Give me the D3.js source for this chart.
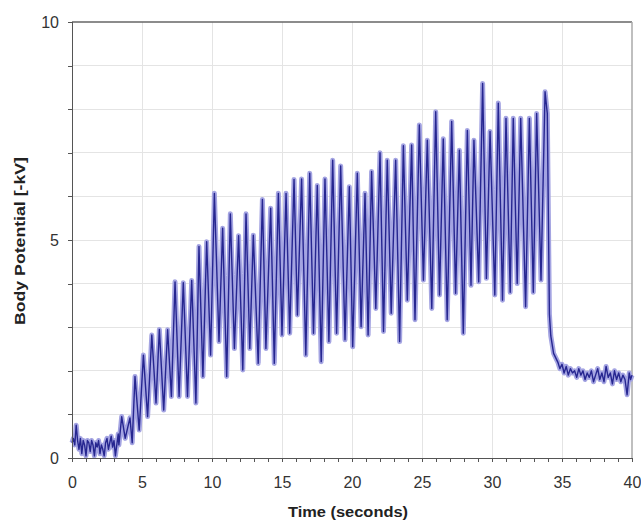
<!DOCTYPE html>
<html lang="en">
<head>
<meta charset="UTF-8">
<title>Body Potential</title>
<script src="https://d3js.org/d3.v7.min.js"></script>
<style>
body { margin: 0; background: #fff; }
.axis path, .axis line { fill: none; stroke: #555; shape-rendering: crispEdges; }
.axis text { font-family: "Liberation Sans", Arial, sans-serif; font-size: 16px; fill: #333; }
.grid line { stroke: #e4e4e4; shape-rendering: crispEdges; }
.label { font-family: "Liberation Sans", Arial, sans-serif; font-weight: bold; font-size: 14px; fill: #222; }
</style>
</head>
<body>
<script>
// readings: time in seconds, body potential in -kV
var timeSec = [
  0.0, 0.1, 0.2, 0.3, 0.4, 0.5, 0.6, 0.7, 0.8, 0.9,
  1.0, 1.1, 1.2, 1.3, 1.4, 1.5, 1.6, 1.7, 1.8, 1.9,
  2.0, 2.1, 2.2, 2.3, 2.4, 2.5, 2.6, 2.7, 2.8, 2.9,
  3.0, 3.1, 3.2, 3.3,
  3.35, 3.55, 3.8, 4.14, 4.3, 4.5, 4.8, 5.1, 5.4, 5.7,
  6.0, 6.24, 6.55, 6.83, 7.1, 7.36, 7.65, 7.95, 8.25, 8.55,
  8.85, 9.07, 9.35, 9.62, 9.9, 10.17, 10.5, 10.76, 11.05, 11.31,
  11.6, 11.9, 12.2, 12.43, 12.7, 12.95, 13.3, 13.6, 13.85, 14.19,
  14.45, 14.74, 15.0, 15.29, 15.55, 15.86, 16.1, 16.4, 16.7, 16.98,
  17.25, 17.52, 17.8, 18.07, 18.35, 18.62, 18.9, 19.19, 19.5, 19.81,
  20.05, 20.38, 20.65, 20.93, 21.15, 21.4, 21.7, 22.0, 22.25, 22.52,
  22.8, 23.12, 23.4, 23.67, 23.95, 24.26, 24.5, 24.81, 25.1, 25.38,
  25.7, 25.98, 26.25, 26.52, 26.8, 27.12, 27.4, 27.67, 27.95, 28.24,
  28.5, 28.71, 29.05, 29.33, 29.6, 29.86, 30.2, 30.45, 30.75, 31.0,
  31.3, 31.52, 31.8, 32.05, 32.4, 32.67, 32.95, 33.19, 33.5, 33.79,
  33.95, 34.1, 34.2, 34.4,
  34.7, 34.85, 35.0, 35.15, 35.3, 35.45, 35.6, 35.75, 35.9, 36.05,
  36.2, 36.35, 36.5, 36.65, 36.8, 36.95, 37.1, 37.25, 37.4, 37.55,
  37.7, 37.85, 38.0, 38.15, 38.3, 38.45, 38.6, 38.75, 38.9, 39.05,
  39.2, 39.35, 39.5, 39.65, 39.8, 39.9, 40.0
];
var potentialKV = [
  0.35, 0.45, 0.3, 0.75, 0.4, 0.2, 0.45, 0.1, 0.4, 0.3,
  0.05, 0.4, 0.35, 0.15, 0.4, 0.3, 0.05, 0.35, 0.25, 0.4,
  0.1, 0.3, 0.2, 0.05, 0.35, 0.45, 0.2, 0.35, 0.5, 0.25,
  0.4, 0.05, 0.3, 0.55,
  0.3, 0.95, 0.45, 0.92, 0.35, 1.87, 0.64, 2.36, 0.95, 2.82,
  1.26, 2.95, 1.1, 2.94, 1.41, 4.04, 1.41, 4.02, 1.41, 4.07,
  1.26, 4.85, 1.87, 4.96, 2.36, 6.07, 2.67, 5.27, 1.87, 5.6,
  2.51, 5.1, 2.02, 5.6, 2.51, 5.11, 2.17, 5.93, 2.51, 5.73,
  2.17, 6.07, 2.82, 6.07, 2.86, 6.39, 3.28, 6.4, 2.36, 6.53,
  2.86, 6.25, 2.21, 6.4, 2.67, 6.83, 2.86, 6.7, 2.71, 6.22,
  2.55, 6.53, 3.01, 6.07, 2.82, 6.57, 3.43, 7.0, 2.9, 6.83,
  3.32, 6.83, 2.67, 7.16, 3.62, 7.18, 3.17, 7.64, 4.08, 7.29,
  3.43, 7.94, 3.74, 7.32, 3.17, 7.72, 3.78, 7.06, 2.86, 7.51,
  3.96, 7.29, 4.04, 8.59, 4.12, 7.49, 3.74, 8.14, 3.62, 7.79,
  3.8, 7.79, 4.0, 7.79, 3.47, 7.79, 3.8, 7.9, 4.08, 8.4,
  7.9, 3.3, 2.8, 2.4,
  2.2, 2.05, 2.15, 1.95, 2.1, 1.9, 2.05, 1.95, 2.0, 1.85,
  2.05, 1.9, 2.0, 1.8, 1.95, 1.85, 2.0, 1.75, 1.9, 2.05,
  1.8, 1.95, 1.75, 2.1, 1.85, 1.95, 1.7, 2.0, 1.8, 1.95,
  1.75, 1.9, 1.8, 1.45, 1.95, 1.8, 1.9
];
var xMajorTicks = [0, 5, 10, 15, 20, 25, 30, 35, 40];
var yMajorTicks = [0, 5, 10];

var svgW = 641, svgH = 521;
var mLeft = 72, mTop = 22, plotW = 560, plotH = 436;

var svg = d3.select('body').append('svg')
  .attr('width', svgW)
  .attr('height', svgH);

var x = d3.scaleLinear().domain([0, 40]).range([mLeft, mLeft + plotW]);
var y = d3.scaleLinear().domain([0, 10]).range([mTop + plotH, mTop]);

// grid
svg.append('g').attr('class', 'grid')
  .selectAll('line').data(d3.range(1, 10)).enter().append('line')
  .attr('x1', mLeft).attr('x2', mLeft + plotW)
  .attr('y1', function(d){ return y(d); }).attr('y2', function(d){ return y(d); });
svg.append('g').attr('class', 'grid')
  .selectAll('line').data(xMajorTicks.slice(1, -1)).enter().append('line')
  .attr('y1', mTop).attr('y2', mTop + plotH)
  .attr('x1', function(d){ return x(d); }).attr('x2', function(d){ return x(d); });

// frame top and right
svg.append('line').attr('x1', mLeft).attr('x2', mLeft + plotW).attr('y1', mTop).attr('y2', mTop)
  .attr('stroke', '#666').attr('stroke-width', 1.5);
svg.append('line').attr('x1', mLeft + plotW).attr('x2', mLeft + plotW).attr('y1', mTop).attr('y2', mTop + plotH)
  .attr('stroke', '#aaa').attr('stroke-width', 1.5);

// the trace: a wide pale stroke under a thin dark one
var pts = timeSec.map(function(t, i){ return [t, potentialKV[i]]; });
var line = d3.line().x(function(d){ return x(d[0]); }).y(function(d){ return y(d[1]); });
svg.append('path').datum(pts).attr('d', line)
  .attr('fill', 'none').attr('stroke', '#a4a4e2').attr('stroke-width', 5)
  .attr('stroke-linejoin', 'round');
svg.append('path').datum(pts).attr('d', line)
  .attr('fill', 'none').attr('stroke', '#262690').attr('stroke-width', 1.4)
  .attr('stroke-linejoin', 'round');

// axes
var xMinor = d3.axisBottom(x).tickValues(d3.range(0, 41)).tickSize(4).tickFormat('');
svg.append('g').attr('class', 'axis').attr('transform', 'translate(0,' + (mTop + plotH) + ')').call(xMinor);
var xAxis = d3.axisBottom(x).tickValues(xMajorTicks).tickSize(4).tickPadding(15);
svg.append('g').attr('class', 'axis').attr('transform', 'translate(0,' + (mTop + plotH) + ')').call(xAxis);

var yMinor = d3.axisLeft(y).tickValues(d3.range(0, 11)).tickSize(4).tickFormat('');
svg.append('g').attr('class', 'axis').attr('transform', 'translate(' + mLeft + ',0)').call(yMinor);
var yAxis = d3.axisLeft(y).tickValues(yMajorTicks).tickSize(4).tickPadding(9);
svg.append('g').attr('class', 'axis').attr('transform', 'translate(' + mLeft + ',0)').call(yAxis);

svg.selectAll('.axis path.domain').attr('stroke-width', 1.5);

// titles
svg.append('text').attr('class', 'label')
  .attr('x', 348).attr('y', 517).attr('text-anchor', 'middle')
  .attr('textLength', 120).attr('lengthAdjust', 'spacingAndGlyphs')
  .text('Time (seconds)');
svg.append('text').attr('class', 'label')
  .attr('transform', 'translate(25,241) rotate(-90)')
  .attr('text-anchor', 'middle')
  .attr('textLength', 168).attr('lengthAdjust', 'spacingAndGlyphs')
  .text('Body Potential [-kV]');
</script>
</body>
</html>
